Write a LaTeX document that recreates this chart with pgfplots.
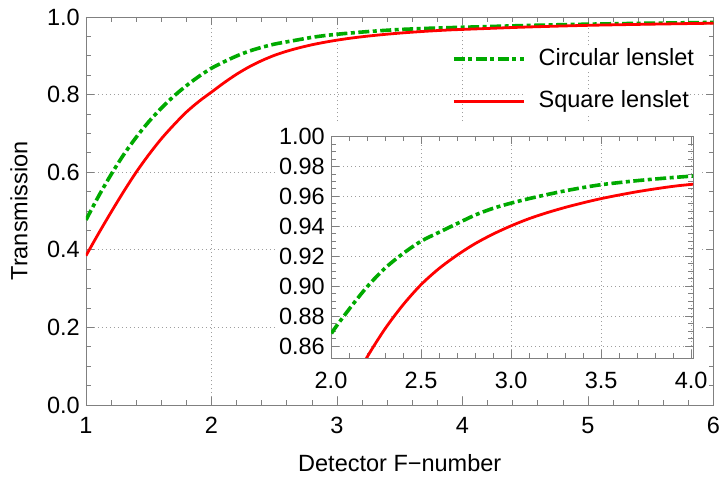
\documentclass[border=0pt]{standalone}
\usepackage{fontspec}
\setmainfont{Liberation Sans}
\usepackage{pgfplots}
\usepackage{pgfplotstable}
\pgfplotsset{compat=1.18}
\definecolor{cgreen}{RGB}{0,170,0}
\definecolor{framec}{gray}{0.5}
\definecolor{gridc}{gray}{0.62}

\pgfplotstableread{
x y
1.0 0.477
1.1 0.538
1.2 0.594
1.3 0.645
1.4 0.690
1.5 0.730
1.6 0.765
1.7 0.796
1.8 0.823
1.9 0.847
2.0 0.868
2.1 0.8845
2.2 0.8995
2.3 0.9120
2.4 0.9218
2.5 0.9300
2.6 0.9360
2.7 0.9418
2.8 0.9475
2.9 0.9520
3.0 0.9555
3.1 0.9585
3.2 0.9612
3.3 0.9637
3.4 0.9659
3.5 0.9678
3.6 0.9692
3.7 0.9705
3.8 0.9716
3.9 0.9726
4.0 0.9735
4.5 0.9780
5.0 0.9815
5.5 0.9840
6.0 0.9860
}\circdata

\pgfplotstableread{
x y
1.0 0.385
1.1 0.442
1.2 0.497
1.3 0.550
1.4 0.600
1.5 0.645
1.6 0.686
1.7 0.722
1.8 0.755
1.9 0.7825
2.0 0.8065
2.1 0.8305
2.2 0.8525
2.3 0.8715
2.4 0.8875
2.5 0.9010
2.6 0.9118
2.7 0.9207
2.8 0.9284
2.9 0.9348
3.0 0.9403
3.1 0.9451
3.2 0.9491
3.3 0.9526
3.4 0.9557
3.5 0.9585
3.6 0.9609
3.7 0.9631
3.8 0.9650
3.9 0.9667
4.0 0.9680
4.5 0.9740
5.0 0.9785
5.5 0.9815
6.0 0.9840
}\squaredata

\pgfplotsset{
  mystyle/.style={
    scale only axis,
    axis line style={framec, line width=0.9bp},
    every tick/.style={framec, line width=0.8bp},
    major tick length=8bp, minor tick length=5bp,
    tick align=inside,
    grid=major,
    major grid style={gridc, line width=0.9bp, dash pattern=on 1.1bp off 2.9bp},
    /pgf/number format/assume math mode=true,
    yticklabel style={inner sep=0pt, xshift=-6bp},
    xticklabel style={inner sep=0pt, yshift=-12bp},
  },
  circstyle/.style={cgreen, line width=3.6bp, dash pattern=on 11bp off 3.5bp on 4bp off 3.5bp},
  sqstyle/.style={red, line width=2.8bp},
}

\begin{document}
\fontsize{23.5bp}{28bp}\selectfont
\begin{tikzpicture}
\begin{axis}[mystyle,
  width=627.5bp, height=388bp,
  xmin=1, xmax=6, ymin=0, ymax=1,
  xtick={1,2,3,4,5,6},
  ytick={0,0.2,0.4,0.6,0.8,1.0},
  minor x tick num=4, minor y tick num=3,
  yticklabel style={/pgf/number format/.cd, fixed, fixed zerofill, precision=1},
  xlabel={Detector F−number}, ylabel={Transmission},
  xlabel style={at={(axis description cs:0.5,-0.1717)}, anchor=base},
  ylabel style={at={(axis description cs:-0.0935,0.5)}, anchor=base},
  legend style={draw=none, fill=none, at={(axis description cs:0.583,0.9227)}, anchor=north west,
    inner sep=0pt, row sep=18bp, column sep=0pt,
    nodes={fill=white, inner sep=1bp, text height=17bp, text depth=5bp, anchor=west}},
  legend cell align=left,
  legend image code/.code={\draw[#1] (0bp,0bp) -- (70bp,0bp);},
]
\addplot[circstyle, smooth] table[x=x,y=y] {\circdata};
\addlegendentry{\hspace{12bp}Circular lenslet}
\addplot[sqstyle, smooth] table[x=x,y=y] {\squaredata};
\addlegendentry{\hspace{12bp}Square lenslet}
\end{axis}
\fill[white] (190bp,12bp) rectangle (615bp,283bp);
\begin{axis}[mystyle,
  at={(245bp,47bp)}, anchor=south west,
  width=362bp, height=221.5bp,
  xmin=2, xmax=4.01, ymin=0.852, ymax=1.0,
  xtick={2,2.5,3,3.5,4},
  ytick={0.86,0.88,0.90,0.92,0.94,0.96,0.98,1.00},
  minor x tick num=4, minor y tick num=3,
  xticklabel style={yshift=-1.7bp, /pgf/number format/.cd, fixed, fixed zerofill, precision=1},
  yticklabel style={/pgf/number format/.cd, fixed, fixed zerofill, precision=2},
]
\addplot[circstyle, smooth] table[x=x,y=y] {\circdata};
\addplot[sqstyle, smooth] table[x=x,y=y] {\squaredata};
\end{axis}
\pgfresetboundingbox
\path[use as bounding box] (-86bp,-74bp) rectangle (633bp,405bp);
\end{tikzpicture}
\end{document}
